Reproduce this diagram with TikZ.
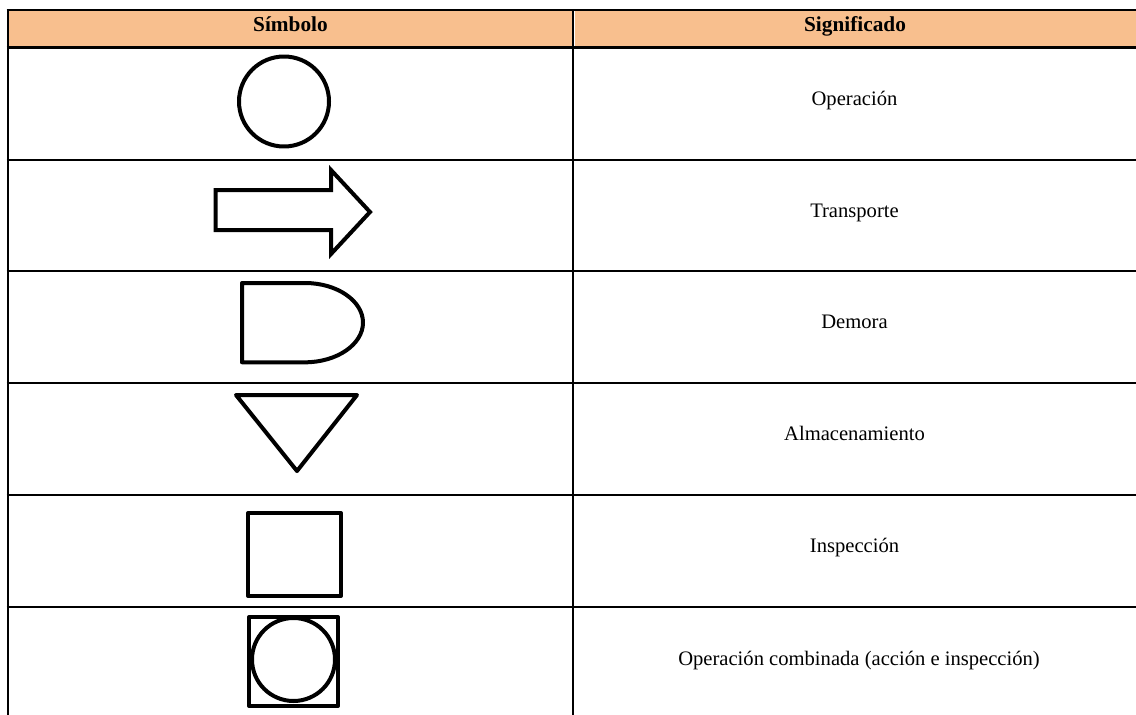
\documentclass[tikz,border=0pt]{standalone}
\usepackage{fontspec}
\setmainfont{Liberation Serif}
\definecolor{headfill}{HTML}{F8BF8E}
\begin{document}
\begin{tikzpicture}[x=1pt,y=-1pt,
  rule/.style={line width=2pt},
  thickrule/.style={line width=2.8pt},
  sym/.style={line width=4pt, line join=round},
  cell/.style={inner sep=0pt, anchor=base, font=\fontsize{20.6}{24}\selectfont},
  headtext/.style={inner sep=0pt, anchor=base, font=\fontsize{21.3}{24}\selectfont\bfseries}]
\useasboundingbox (0,0) rectangle (1136,715);
\fill[white] (0,0) rectangle (1136,715);

% header cells
\fill[headfill] (8,10) rectangle (572,47.5);
\fill[headfill] (575,10) rectangle (1136,47.5);

% table rules
\draw[thickrule] (6.5,10) -- (1136,10);
\draw[thickrule] (6.5,47.5) -- (1136,47.5);
\foreach \yy in {160,271,383,495,607}
  \draw[rule] (6.5,\yy) -- (1136,\yy);
\draw[rule] (7.5,9) -- (7.5,715);
\draw[rule] (573,10) -- (573,715);

% header texts
\node[headtext] (h1) at (290.5,31) {Símbolo};
\node[headtext] (h2) at (855,31) {Significado};

% meanings
\node[cell] (t1) at (854.5,105.3) {Operación};
\node[cell] (t2) at (854.5,217) {Transporte};
\node[cell] (t3) at (854.5,328.5) {Demora};
\node[cell] (t4) at (854.5,440) {Almacenamiento};
\node[cell] (t5) at (854.5,552.5) {Inspección};
\node[cell] (t6) at (859,665) {Operación combinada (acción e inspección)};

% operation
\draw[sym] (284,101.5) circle (45);

% transport
\draw[sym, line join=miter] (215.5,190) -- (331,190) -- (331,170) -- (370,212)
  -- (331,254) -- (331,230) -- (215.5,230) -- cycle;

% delay
\draw[sym] (305,283) -- (242,283) -- (242,362.3) -- (305,362.3)
  .. controls (337,362.3) and (363,344.3) .. (363,322.6)
  .. controls (363,300.8) and (337,283) .. (305,283) -- cycle;

% storage
\draw[sym] (236,395) -- (357,395) -- (297,471) -- cycle;

% inspection
\draw[sym] (248,513) rectangle (341,596);

% combined operation
\draw[sym] (249,617) rectangle (338,706);
\draw[sym] (293.5,659.5) circle (41.5);
\end{tikzpicture}
\end{document}
